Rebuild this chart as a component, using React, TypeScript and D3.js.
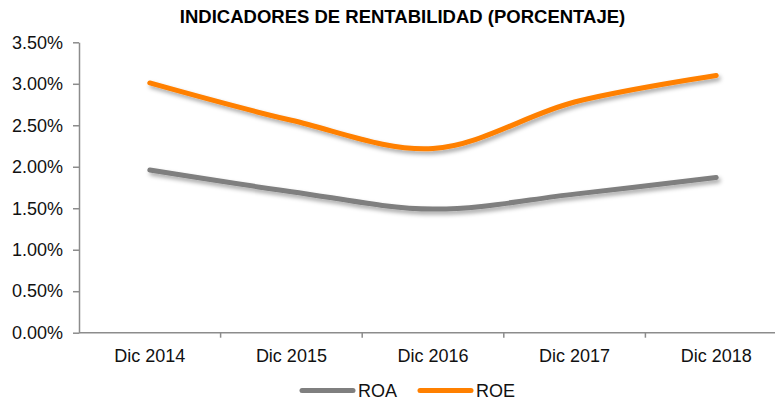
import React, { useEffect, useRef } from 'react';
import * as d3 from 'd3';

const categories = ['Dic 2014', 'Dic 2015', 'Dic 2016', 'Dic 2017', 'Dic 2018'];
const roa = [0.0196, 0.0170, 0.0149, 0.0167, 0.0187];
const roe = [0.0301, 0.0256, 0.0222, 0.0278, 0.0310];
const yTicks = [0, 0.005, 0.01, 0.015, 0.02, 0.025, 0.03, 0.035];
const seriesNames = ['ROA', 'ROE'];
const seriesColors = ['#7f7f7f', '#ff8000'];

const width = 775;
const height = 401;
const font = "Arial, 'Liberation Sans', sans-serif";

export default function App() {
  const ref = useRef<SVGSVGElement>(null);

  useEffect(() => {
    const svg = d3.select(ref.current);
    svg.selectAll('*').remove();

    const margin = { top: 42.3, bottom: 68.3, left: 79, right: -12 };

    // scales
    const x = d3.scaleBand().domain(categories).range([margin.left, width - margin.right]);
    const y = d3.scaleLinear().domain([0, 0.035]).range([height - margin.bottom, margin.top]);

    // shadow under the lines
    const defs = svg.append('defs');
    defs.append('filter')
      .attr('id', 'shadow')
      .attr('x', '-10%').attr('y', '-30%').attr('width', '120%').attr('height', '160%')
      .append('feDropShadow')
      .attr('dx', 2).attr('dy', 3).attr('stdDeviation', 2)
      .attr('flood-color', '#000').attr('flood-opacity', 0.35);

    // title
    svg.append('text')
      .attr('x', 402.5).attr('y', 23)
      .attr('text-anchor', 'middle')
      .attr('font-family', font).attr('font-size', 18.5).attr('font-weight', 'bold')
      .attr('fill', '#000')
      .text('INDICADORES DE RENTABILIDAD (PORCENTAJE)');

    // y axis
    const yAxis = svg.append('g')
      .attr('transform', 'translate(' + margin.left + ',0)')
      .call(d3.axisLeft(y).tickValues(yTicks).tickSize(6).tickSizeOuter(0).tickPadding(10)
        .tickFormat(d => d3.format('.2f')((d as number) * 100) + '%'));
    yAxis.select('.domain').attr('stroke', '#8c8c8c').attr('stroke-width', 1.5);
    yAxis.selectAll('.tick line').attr('stroke', '#8c8c8c').attr('stroke-width', 1.5);
    yAxis.selectAll('.tick text').attr('font-family', font).attr('font-size', 18).attr('fill', '#111');

    // x axis: line plus ticks at the band edges
    const x0 = y(0);
    const xg = svg.append('g');
    xg.append('line')
      .attr('x1', margin.left).attr('x2', width - margin.right)
      .attr('y1', x0).attr('y2', x0)
      .attr('stroke', '#8c8c8c').attr('stroke-width', 1.5);
    xg.selectAll('line.tk')
      .data(categories.slice(1))
      .join('line')
      .attr('class', 'tk')
      .attr('x1', d => x(d)!).attr('x2', d => x(d)!)
      .attr('y1', x0).attr('y2', x0 + 5)
      .attr('stroke', '#8c8c8c').attr('stroke-width', 1.5);
    xg.selectAll('text')
      .data(categories)
      .join('text')
      .attr('x', d => x(d)! + x.bandwidth() / 2)
      .attr('y', x0 + 29)
      .attr('text-anchor', 'middle')
      .attr('font-family', font).attr('font-size', 18).attr('fill', '#111')
      .text(d => d);

    // lines
    const line = d3.line<number>()
      .x((_, i) => x(categories[i])! + x.bandwidth() / 2)
      .y(d => y(d))
      .curve(d3.curveCatmullRom.alpha(0.5));

    [roa, roe].forEach((s, i) => {
      svg.append('path')
        .datum(s)
        .attr('d', line)
        .attr('fill', 'none')
        .attr('stroke', seriesColors[i])
        .attr('stroke-width', 5)
        .attr('stroke-linecap', 'round')
        .attr('filter', 'url(#shadow)');
    });

    // legend
    const legend = svg.append('g');
    const lx = [300, 418];
    seriesNames.forEach((n, i) => {
      legend.append('line')
        .attr('x1', lx[i] + 2).attr('x2', lx[i] + 53)
        .attr('y1', 390.5).attr('y2', 390.5)
        .attr('stroke', seriesColors[i]).attr('stroke-width', 5)
        .attr('stroke-linecap', 'round');
      legend.append('text')
        .attr('x', lx[i] + 58).attr('y', 397)
        .attr('font-family', font).attr('font-size', 18).attr('fill', '#111')
        .text(n);
    });
  }, []);

  return (
    <svg
      ref={ref}
      width={width}
      height={height}
      style={{ position: 'absolute', left: 0, top: 0, background: '#fff' }}
    />
  );
}
